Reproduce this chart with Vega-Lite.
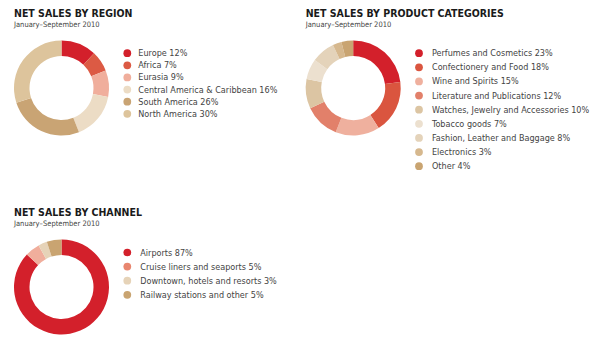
{
  "$schema": "https://vega.github.io/schema/vega-lite/v6.json",
  "background": "white",
  "padding": {"left": 14, "top": 8.5, "right": 0, "bottom": 0},
  "config": {
    "view": {"stroke": null},
    "font": "DejaVu Sans Condensed, Liberation Sans Narrow, Roboto, sans-serif",
    "title": {"anchor": "start", "frame": "group", "fontSize": 10.5, "fontWeight": "bold", "color": "#1a1a1a", "subtitleFontSize": 7.5, "subtitleColor": "#444444", "subtitlePadding": 1, "offset": 12.5}
  },
  "spacing": 36,
  "resolve": {"scale": {"color": "independent", "x": "independent", "y": "independent"}},
  "vconcat": [
    {
      "spacing": 7.7,
      "resolve": {"scale": {"color": "independent", "x": "independent", "y": "independent"}},
      "hconcat": [
        {
          "title": {"text": "NET SALES BY REGION", "subtitle": "January–September 2010"},
          "bounds": "flush",
          "spacing": 18.3,
          "hconcat": [
            {
              "width": 95, "height": 95,
              "data": {"values": [
                {"region": "Europe", "share": 12, "label": "Europe 12%"},
                {"region": "Africa", "share": 7, "label": "Africa 7%"},
                {"region": "Eurasia", "share": 9, "label": "Eurasia 9%"},
                {"region": "Central America & Caribbean", "share": 16, "label": "Central America & Caribbean 16%"},
                {"region": "South America", "share": 26, "label": "South America 26%"},
                {"region": "North America", "share": 30, "label": "North America 30%"}
              ]},
              "transform": [{"window": [{"op": "row_number", "as": "idx"}]}],
              "mark": {"type": "arc", "innerRadius": 32, "outerRadius": 47.5},
              "encoding": {
                "theta": {"field": "share", "type": "quantitative", "stack": true},
                "order": {"field": "idx", "type": "quantitative"},
                "color": {"field": "region", "type": "nominal", "legend": null,
                  "scale": {"domain": ["Europe", "Africa", "Eurasia", "Central America & Caribbean", "South America", "North America"],
                            "range": ["#d3202b", "#dc5a44", "#f0ae9c", "#ecdcc5", "#c9a474", "#ddc49c"]}}
              }
            },
            {
              "width": 170, "height": 95,
              "data": {"values": [
                {"region": "Europe", "share": 12, "label": "Europe 12%"},
                {"region": "Africa", "share": 7, "label": "Africa 7%"},
                {"region": "Eurasia", "share": 9, "label": "Eurasia 9%"},
                {"region": "Central America & Caribbean", "share": 16, "label": "Central America & Caribbean 16%"},
                {"region": "South America", "share": 26, "label": "South America 26%"},
                {"region": "North America", "share": 30, "label": "North America 30%"}
              ]},
              "encoding": {
                "x": {"datum": 0, "type": "quantitative", "scale": {"domain": [0, 1]}, "axis": null},
                "y": {"field": "region", "type": "nominal", "sort": null, "axis": null, "scale": {"range": [12.7, 73.3], "padding": 0}},
                "color": {"field": "region", "type": "nominal", "legend": null,
                  "scale": {"domain": ["Europe", "Africa", "Eurasia", "Central America & Caribbean", "South America", "North America"],
                            "range": ["#d3202b", "#dc5a44", "#f0ae9c", "#ecdcc5", "#c9a474", "#ddc49c"]}}
              },
              "layer": [
                {"mark": {"type": "point", "filled": true, "size": 60, "opacity": 1, "shape": "circle"}},
                {"mark": {"type": "text", "align": "left", "baseline": "middle", "dx": 11, "fontSize": 9, "color": "#444444"},
                 "encoding": {"text": {"field": "label"}, "color": {"value": "#444444"}}}
              ]
            }
          ]
        },
        {
          "title": {"text": "NET SALES BY PRODUCT CATEGORIES", "subtitle": "January–September 2010"},
          "bounds": "flush",
          "spacing": 18.3,
          "hconcat": [
            {
              "width": 95, "height": 95,
              "data": {"values": [
                {"category": "Perfumes and Cosmetics", "share": 23, "label": "Perfumes and Cosmetics 23%"},
                {"category": "Confectionery and Food", "share": 18, "label": "Confectionery and Food 18%"},
                {"category": "Wine and Spirits", "share": 15, "label": "Wine and Spirits 15%"},
                {"category": "Literature and Publications", "share": 12, "label": "Literature and Publications 12%"},
                {"category": "Watches, Jewelry and Accessories", "share": 10, "label": "Watches, Jewelry and Accessories 10%"},
                {"category": "Tobacco goods", "share": 7, "label": "Tobacco goods 7%"},
                {"category": "Fashion, Leather and Baggage", "share": 8, "label": "Fashion, Leather and Baggage 8%"},
                {"category": "Electronics", "share": 3, "label": "Electronics 3%"},
                {"category": "Other", "share": 4, "label": "Other 4%"}
              ]},
              "transform": [{"window": [{"op": "row_number", "as": "idx"}]}],
              "mark": {"type": "arc", "innerRadius": 32, "outerRadius": 47.5},
              "encoding": {
                "theta": {"field": "share", "type": "quantitative", "stack": true},
                "order": {"field": "idx", "type": "quantitative"},
                "color": {"field": "category", "type": "nominal", "legend": null,
                  "scale": {"domain": ["Perfumes and Cosmetics", "Confectionery and Food", "Wine and Spirits", "Literature and Publications", "Watches, Jewelry and Accessories", "Tobacco goods", "Fashion, Leather and Baggage", "Electronics", "Other"],
                            "range": ["#d3202b", "#da553f", "#efb09e", "#e2806a", "#dcc5a3", "#ece0cf", "#e4d3ba", "#d6b88e", "#c9a471"]}}
              }
            },
            {
              "width": 170, "height": 130,
              "data": {"values": [
                {"category": "Perfumes and Cosmetics", "share": 23, "label": "Perfumes and Cosmetics 23%"},
                {"category": "Confectionery and Food", "share": 18, "label": "Confectionery and Food 18%"},
                {"category": "Wine and Spirits", "share": 15, "label": "Wine and Spirits 15%"},
                {"category": "Literature and Publications", "share": 12, "label": "Literature and Publications 12%"},
                {"category": "Watches, Jewelry and Accessories", "share": 10, "label": "Watches, Jewelry and Accessories 10%"},
                {"category": "Tobacco goods", "share": 7, "label": "Tobacco goods 7%"},
                {"category": "Fashion, Leather and Baggage", "share": 8, "label": "Fashion, Leather and Baggage 8%"},
                {"category": "Electronics", "share": 3, "label": "Electronics 3%"},
                {"category": "Other", "share": 4, "label": "Other 4%"}
              ]},
              "encoding": {
                "x": {"datum": 0, "type": "quantitative", "scale": {"domain": [0, 1]}, "axis": null},
                "y": {"field": "category", "type": "nominal", "sort": null, "axis": null, "scale": {"range": [12.7, 125.7], "padding": 0}},
                "color": {"field": "category", "type": "nominal", "legend": null,
                  "scale": {"domain": ["Perfumes and Cosmetics", "Confectionery and Food", "Wine and Spirits", "Literature and Publications", "Watches, Jewelry and Accessories", "Tobacco goods", "Fashion, Leather and Baggage", "Electronics", "Other"],
                            "range": ["#d3202b", "#da553f", "#efb09e", "#e2806a", "#dcc5a3", "#ece0cf", "#e4d3ba", "#d6b88e", "#c9a471"]}}
              },
              "layer": [
                {"mark": {"type": "point", "filled": true, "size": 60, "opacity": 1, "shape": "circle"}},
                {"mark": {"type": "text", "align": "left", "baseline": "middle", "dx": 13, "fontSize": 9, "color": "#444444"},
                 "encoding": {"text": {"field": "label"}, "color": {"value": "#444444"}}}
              ]
            }
          ]
        }
      ]
    },
    {
      "title": {"text": "NET SALES BY CHANNEL", "subtitle": "January–September 2010"},
      "bounds": "flush",
      "spacing": 18.3,
      "resolve": {"scale": {"color": "independent", "x": "independent", "y": "independent"}},
      "hconcat": [
        {
          "width": 95, "height": 95,
          "data": {"values": [
            {"channel": "Airports", "share": 87, "label": "Airports 87%"},
            {"channel": "Cruise liners and seaports", "share": 5, "label": "Cruise liners and seaports 5%"},
            {"channel": "Downtown, hotels and resorts", "share": 3, "label": "Downtown, hotels and resorts 3%"},
            {"channel": "Railway stations and other", "share": 5, "label": "Railway stations and other 5%"}
          ]},
          "transform": [{"window": [{"op": "row_number", "as": "idx"}]}],
          "mark": {"type": "arc", "innerRadius": 32, "outerRadius": 47.5},
          "encoding": {
            "theta": {"field": "share", "type": "quantitative", "stack": true},
            "order": {"field": "idx", "type": "quantitative"},
            "color": {"field": "channel", "type": "nominal", "legend": null,
              "scale": {"domain": ["Airports", "Cruise liners and seaports", "Downtown, hotels and resorts", "Railway stations and other"],
                        "range": ["#d3202b", "#f0ae9c", "#e6d3b8", "#c9a471"]}}
          }
        },
        {
          "width": 170, "height": 95,
          "data": {"values": [
            {"channel": "Airports", "share": 87, "label": "Airports 87%"},
            {"channel": "Cruise liners and seaports", "share": 5, "label": "Cruise liners and seaports 5%"},
            {"channel": "Downtown, hotels and resorts", "share": 3, "label": "Downtown, hotels and resorts 3%"},
            {"channel": "Railway stations and other", "share": 5, "label": "Railway stations and other 5%"}
          ]},
          "encoding": {
            "x": {"datum": 0, "type": "quantitative", "scale": {"domain": [0, 1]}, "axis": null},
            "y": {"field": "channel", "type": "nominal", "sort": null, "axis": null, "scale": {"range": [13, 55.3], "padding": 0}},
            "color": {"field": "channel", "type": "nominal", "legend": null,
              "scale": {"domain": ["Airports", "Cruise liners and seaports", "Downtown, hotels and resorts", "Railway stations and other"],
                        "range": ["#d3202b", "#e8866f", "#e6d3b8", "#c9a471"]}}
          },
          "layer": [
            {"mark": {"type": "point", "filled": true, "size": 60, "opacity": 1, "shape": "circle"}},
            {"mark": {"type": "text", "align": "left", "baseline": "middle", "dx": 13, "fontSize": 9, "color": "#444444"},
             "encoding": {"text": {"field": "label"}, "color": {"value": "#444444"}}}
          ]
        }
      ]
    }
  ]
}
